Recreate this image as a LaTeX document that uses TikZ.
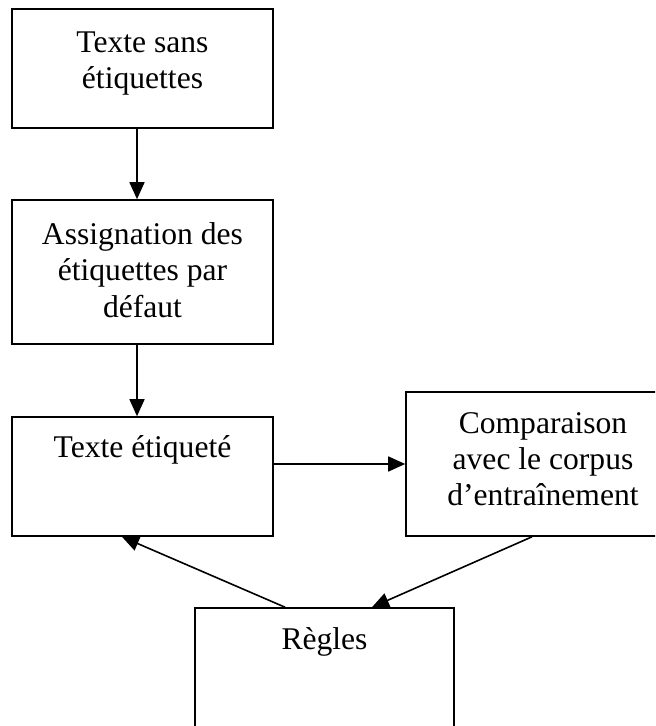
\documentclass[tikz,border=0pt]{standalone}
\usepackage{fontspec}
\setmainfont{Liberation Serif}
\usetikzlibrary{arrows.meta,positioning}

\begin{document}
\begin{tikzpicture}[x=0.5pt,y=-0.5pt,
  boite/.style={draw,line width=0.8pt,minimum width=130.5pt,inner sep=0pt},
  texte/.style={align=center,inner sep=0pt,font=\fontsize{15.8}{18.2}\selectfont},
  fleche/.style={-{Triangle[length=8.5pt,width=7.5pt]},line width=0.8pt}]
\useasboundingbox (0,0) rectangle (655,726);
\clip (0,0) rectangle (655,726);
% les cadres
\node[boite,minimum height=59.5pt] (sans) at (142.5,68.5) {};
\node[boite,minimum height=72pt] (defaut) at (142.5,272) {};
\node[boite,minimum height=59.5pt] (etiq) at (142.5,476.5) {};
\node[boite,minimum width=137pt,minimum height=72pt] (comp) at (543,464) {};
\node[boite,minimum width=129.5pt,minimum height=72pt] (regles) at (324.5,680) {};
% les textes
\node[texte,below=11.5pt of sans.north] (tsans) {Texte sans\\étiquettes};
\node[texte,below=11.5pt of defaut.north] (tdefaut) {Assignation des\\étiquettes par\\défaut};
\node[texte,below=9.5pt of etiq.north] (tetiq) {Texte étiqueté};
\node[texte,below=10.3pt of comp.north] (tcomp) {Comparaison\\avec le corpus\\d’entraînement};
\node[texte,below=9.8pt of regles.north] (tregles) {Règles};
% les fleches
\draw[fleche] ([xshift=-2.75pt]sans.south) -- ([xshift=-2.75pt]defaut.north);
\draw[fleche] ([xshift=-2.75pt]defaut.south) -- ([xshift=-2.75pt]etiq.north);
\draw[fleche] (etiq.east |- comp.west) -- (comp.west);
\draw[fleche] ([xshift=-5.5pt]comp.south) -- ([xshift=23.75pt]regles.north);
\draw[fleche] ([xshift=-19.75pt]regles.north) -- ([xshift=-10.25pt]etiq.south);
\end{tikzpicture}
\end{document}
